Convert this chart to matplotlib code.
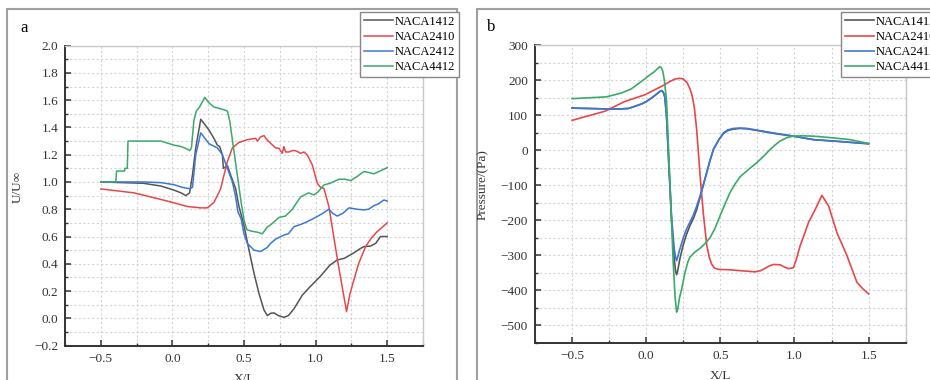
import numpy as np
import matplotlib.pyplot as plt
from matplotlib.ticker import MultipleLocator
from matplotlib.patches import Rectangle

plt.rcParams['font.family'] = ['Liberation Serif', 'DejaVu Serif']

names = ['NACA1412', 'NACA2410', 'NACA2412', 'NACA4412']
colors = ['#555555', '#e8474a', '#3b78d8', '#3aaa6a']

# ---- panel a : U/Uinf along X/L ----
a1412_x = [-0.5, -0.2, -0.08, 0.012, 0.06, 0.093, 0.12, 0.14, 0.163, 0.198, 0.22, 0.256, 0.29, 0.314,
           0.33, 0.349, 0.356, 0.384, 0.407, 0.442, 0.465, 0.5, 0.535, 0.57, 0.605, 0.64, 0.663, 0.686,
           0.709, 0.74, 0.779, 0.81, 0.849, 0.907, 0.96, 1.035, 1.10, 1.151, 1.20, 1.267, 1.31, 1.337,
           1.384, 1.42, 1.453, 1.5]
a1412_y = [1.0, 0.99, 0.97, 0.94, 0.92, 0.90, 0.92, 1.05, 1.25, 1.46, 1.43, 1.38, 1.32, 1.27,
           1.26, 1.20, 1.10, 1.12, 1.05, 0.95, 0.82, 0.68, 0.50, 0.33, 0.18, 0.06, 0.02, 0.037,
           0.04, 0.02, 0.007, 0.02, 0.07, 0.17, 0.23, 0.31, 0.39, 0.428, 0.44, 0.48, 0.51, 0.526,
           0.53, 0.55, 0.60, 0.60]

a2410_x = [-0.5, -0.267, -0.035, 0.105, 0.198, 0.244, 0.29, 0.337, 0.36, 0.384, 0.419, 0.465, 0.523,
           0.581, 0.593, 0.616, 0.64, 0.66, 0.686, 0.72, 0.744, 0.767, 0.779, 0.79, 0.814, 0.837, 0.86,
           0.895, 0.919, 0.942, 0.977, 1.012, 1.035, 1.058, 1.093, 1.151, 1.216, 1.24, 1.267, 1.30,
           1.349, 1.39, 1.43, 1.5]
a2410_y = [0.949, 0.92, 0.86, 0.82, 0.81, 0.81, 0.85, 0.95, 1.05, 1.15, 1.25, 1.29, 1.31,
           1.32, 1.30, 1.33, 1.34, 1.31, 1.283, 1.25, 1.247, 1.21, 1.26, 1.22, 1.22, 1.23, 1.23,
           1.21, 1.22, 1.198, 1.125, 0.99, 0.96, 0.953, 0.82, 0.44, 0.049, 0.18, 0.28, 0.40,
           0.526, 0.59, 0.636, 0.70]

a2412_x = [-0.5, -0.2, -0.08, 0.012, 0.07, 0.123, 0.14, 0.163, 0.198, 0.22, 0.256, 0.314, 0.349,
           0.384, 0.419, 0.44, 0.458, 0.48, 0.50, 0.523, 0.57, 0.616, 0.663, 0.686, 0.72, 0.779, 0.81,
           0.849, 0.90, 0.942, 1.0, 1.05, 1.093, 1.12, 1.151, 1.19, 1.233, 1.29, 1.337, 1.37, 1.407,
           1.44, 1.477, 1.5]
a2412_y = [1.0, 1.0, 0.995, 0.98, 0.96, 0.95, 0.96, 1.20, 1.36, 1.33, 1.28, 1.25, 1.20,
           1.10, 1.00, 0.90, 0.78, 0.73, 0.62, 0.55, 0.50, 0.49, 0.52, 0.55, 0.58, 0.611, 0.62,
           0.672, 0.69, 0.709, 0.74, 0.77, 0.80, 0.77, 0.75, 0.77, 0.81, 0.80, 0.795, 0.80, 0.826,
           0.84, 0.868, 0.86]

a4412_x = [-0.5, -0.395, -0.39, -0.335, -0.33, -0.315, -0.31, -0.08, -0.05, 0.012, 0.06, 0.105, 0.12,
           0.133, 0.15, 0.167, 0.19, 0.226, 0.256, 0.29, 0.36, 0.384, 0.40, 0.42, 0.44, 0.46, 0.48,
           0.50, 0.52, 0.55, 0.60, 0.628, 0.663, 0.686, 0.744, 0.79, 0.837, 0.895, 0.95, 0.988, 1.02,
           1.058, 1.10, 1.163, 1.205, 1.244, 1.29, 1.337, 1.37, 1.407, 1.45, 1.5]
a4412_y = [1.0, 1.0, 1.08, 1.08, 1.10, 1.10, 1.30, 1.30, 1.29, 1.27, 1.26, 1.24, 1.23,
           1.25, 1.45, 1.52, 1.55, 1.62, 1.58, 1.55, 1.53, 1.52, 1.45, 1.30, 1.15, 1.00, 0.85,
           0.72, 0.65, 0.64, 0.63, 0.62, 0.67, 0.685, 0.74, 0.75, 0.80, 0.89, 0.92, 0.905, 0.93,
           0.978, 0.99, 1.02, 1.02, 1.01, 1.04, 1.076, 1.07, 1.06, 1.08, 1.105]

# ---- panel b : pressure along X/L ----
b1412_x = [-0.5, -0.3, -0.2, -0.12, -0.077, -0.03, 0.002, 0.04, 0.07, 0.09, 0.104, 0.112, 0.12, 0.126,
           0.137, 0.153, 0.171, 0.189, 0.198, 0.205, 0.212, 0.227, 0.25, 0.272, 0.295, 0.318, 0.34,
           0.363, 0.385, 0.408, 0.43, 0.453, 0.49, 0.52, 0.55, 0.588, 0.633, 0.68, 0.723, 0.858,
           0.993, 1.128, 1.264, 1.5]
b1412_y = [120, 118, 117, 119, 125, 132, 139, 150, 160, 167, 170, 167, 160, 150,
           97, -45, -200, -310, -345, -355, -345, -310, -270, -240, -215, -195, -170,
           -135, -100, -64, -30, 2, 30, 47, 56, 60, 62, 61, 58, 48,
           40, 30, 26, 18]

b2410_x = [-0.5, -0.4, -0.279, -0.144, -0.009, 0.126, 0.16, 0.194, 0.227, 0.25, 0.275, 0.295, 0.31,
           0.325, 0.34, 0.363, 0.385, 0.408, 0.425, 0.441, 0.46, 0.486, 0.554, 0.644, 0.734, 0.77,
           0.802, 0.83, 0.858, 0.903, 0.937, 0.96, 0.993, 1.01, 1.038, 1.095, 1.14, 1.185, 1.23,
           1.286, 1.354, 1.421, 1.46, 1.5]
b2410_y = [85, 97, 111, 139, 158, 187, 196, 203, 205, 203, 193, 175, 155,
           120, 60, -70, -180, -270, -305, -325, -336, -340, -341, -344, -347, -344,
           -337, -330, -326, -327, -334, -338, -335, -315, -273, -206, -169, -129, -159,
           -235, -301, -377, -395, -410]

b2412_x = [-0.5, -0.3, -0.2, -0.12, -0.077, -0.03, 0.002, 0.04, 0.07, 0.09, 0.104, 0.112, 0.12, 0.126,
           0.137, 0.153, 0.171, 0.189, 0.198, 0.205, 0.212, 0.227, 0.25, 0.272, 0.295, 0.318, 0.34,
           0.363, 0.385, 0.408, 0.43, 0.453, 0.49, 0.52, 0.55, 0.588, 0.633, 0.68, 0.723, 0.858,
           0.993, 1.128, 1.264, 1.5]
b2412_y = [120, 118, 117, 119, 125, 132, 139, 150, 160, 167, 170, 167, 160, 150,
           97, -45, -190, -282, -305, -315, -305, -282, -250, -225, -205, -185, -160,
           -131, -98, -64, -30, 2, 30, 49, 58, 62, 63, 62, 59, 49,
           40, 30, 26, 19]

b4412_x = [-0.5, -0.27, -0.167, -0.1, -0.065, -0.02, 0.025, 0.05, 0.075, 0.092, 0.102, 0.112, 0.122,
           0.137, 0.16, 0.182, 0.195, 0.205, 0.212, 0.225, 0.239, 0.261, 0.28, 0.295, 0.33, 0.363,
           0.40, 0.43, 0.465, 0.498, 0.53, 0.565, 0.6, 0.633, 0.69, 0.745, 0.79, 0.836, 0.87, 0.903,
           0.95, 0.993, 1.05, 1.128, 1.264, 1.376, 1.5]
b4412_y = [147, 152, 163, 175, 186, 200, 215, 222, 232, 238, 236, 225, 200,
           144, -93, -320, -420, -462, -455, -420, -396, -350, -320, -305, -290, -280,
           -265, -250, -222, -187, -155, -121, -96, -76, -55, -36, -18, 2, 15, 26,
           36, 40, 41, 40, 35, 30, 19]

fig = plt.figure(figsize=(9.3, 3.8), dpi=100)

# panel frames
fig.add_artist(Rectangle((7/930, -0.1), 450/930, 1.1 - 9/380, transform=fig.transFigure,
                         fill=False, ec='#a0a0a0', lw=1.5, zorder=-1))
fig.add_artist(Rectangle((477/930, -0.1), 0.6, 1.1 - 9/380, transform=fig.transFigure,
                         fill=False, ec='#a0a0a0', lw=1.5, zorder=-1))

ax1 = fig.add_axes([65/930, 1 - 345.6/380, 358/930, 300/380])
ax2 = fig.add_axes([535/930, 1 - 343/380, 370.7/930, 298/380])

for x, y, c, n in zip([a1412_x, a2410_x, a2412_x, a4412_x], [a1412_y, a2410_y, a2412_y, a4412_y],
                      colors, names):
    ax1.plot(x, y, color=c, lw=1.1, label=n)
for x, y, c, n in zip([b1412_x, b2410_x, b2412_x, b4412_x], [b1412_y, b2410_y, b2412_y, b4412_y],
                      colors, names):
    ax2.plot(x, y, color=c, lw=1.2, label=n)

ax1.set_xlim(-0.75, 1.75)
ax1.set_ylim(-0.2, 2.0)
ax1.yaxis.set_major_locator(MultipleLocator(0.2))
ax1.yaxis.set_minor_locator(MultipleLocator(0.1))
ax2.set_xlim(-0.75, 1.75)
ax2.set_ylim(-550, 300)
ax2.yaxis.set_major_locator(MultipleLocator(100))
ax2.yaxis.set_minor_locator(MultipleLocator(50))

for ax in [ax1, ax2]:
    ax.xaxis.set_major_locator(MultipleLocator(0.5))
    ax.xaxis.set_minor_locator(MultipleLocator(0.25))
    ax.grid(which='both', color='#d4d4d4', ls=(0, (2, 2)), lw=0.8)
    ax.set_axisbelow(True)
    for s in ['left', 'bottom']:
        ax.spines[s].set_color('#333333')
        ax.spines[s].set_linewidth(1.4)
    for s in ['top', 'right']:
        ax.spines[s].set_color('#c8c8c8')
        ax.spines[s].set_linewidth(1.0)
    ax.tick_params(which='major', direction='in', length=4, width=1.1, color='#333333',
                   labelsize=9.5, labelcolor='#333333', top=False, right=False, pad=5)
    ax.tick_params(which='minor', direction='in', length=2.5, width=1.0, color='#333333',
                   top=False, right=False)
    ax.set_xlabel('X/L', fontsize=9.5, color='#333333')
    ax.xaxis.set_label_coords(0.5, -0.09)
    ax.xaxis.label.set_va('top')

ax1.set_ylabel('U/U∞', fontsize=9.5, color='#333333')
ax1.yaxis.set_label_coords(-0.115, 0.53)
ax2.set_ylabel('Pressure/(Pa)', fontsize=9.5, color='#333333')
ax2.yaxis.set_label_coords(-0.125, 0.53)

for ax, xy in [(ax1, (360/930, 1 - 12/380)), (ax2, (841/930, 1 - 12/380))]:
    lg = ax.legend(loc='upper left', bbox_to_anchor=xy, bbox_transform=fig.transFigure,
                   borderaxespad=0, fancybox=False, framealpha=1, edgecolor='#888888',
                   fontsize=9, handlelength=2.3, handletextpad=0.2, labelspacing=0.25,
                   borderpad=0.3)
    lg.get_frame().set_linewidth(1.0)

fig.text(20/930, 1 - 28/380, 'a', fontsize=12, va='center', ha='left')
fig.text(487/930, 1 - 27/380, 'b', fontsize=12, va='center', ha='left')

fig.savefig('out.png', dpi=100)
